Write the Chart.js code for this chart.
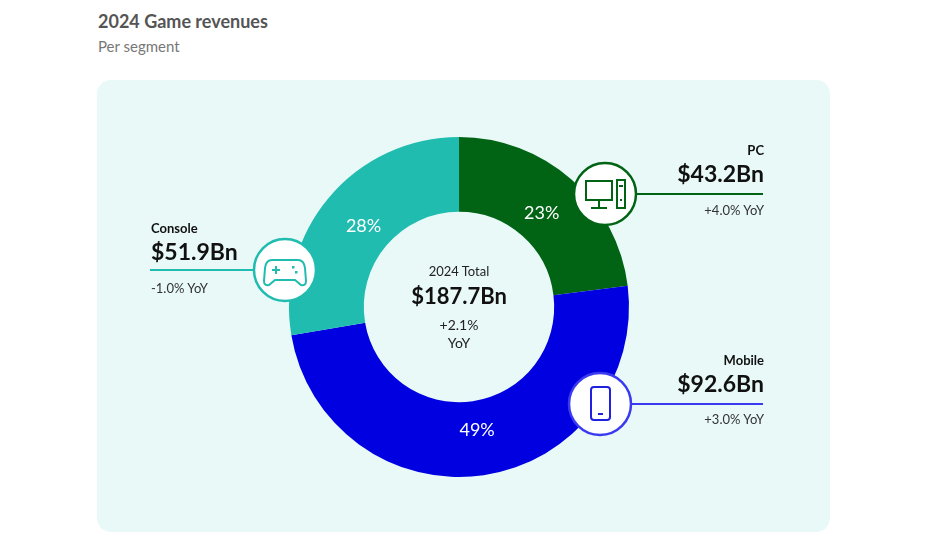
<!DOCTYPE html>
<html><head><meta charset="utf-8">
<script src="https://cdn.jsdelivr.net/npm/chart.js@4"></script>
<style>
body{margin:0;width:948px;height:557px;background:#fff;font-family:Lato,"Open Sans",sans-serif;position:relative;overflow:hidden}
#panel{position:absolute;left:97px;top:80px;width:733px;height:452px;background:#e8f9f8;border-radius:14px}
canvas{position:absolute;left:0;top:0}
.t{position:absolute;white-space:nowrap;color:#111;line-height:1}
.r{text-align:right;transform:translateX(-100%)}
.c{transform:translateX(-50%)}
</style></head><body>
<div class="t" style="left:98px;top:12px;font-size:18px;font-weight:bold;color:#555">2024 Game revenues</div>
<div class="t" style="left:98px;top:39px;font-size:15px;color:#777">Per segment</div>
<div id="panel"></div>
<canvas id="c" width="948" height="557"></canvas>
<div class="t r" style="left:764px;top:144px;font-size:13px;font-weight:bold">PC</div>
<div class="t r" style="left:764px;top:162px;font-size:23px;font-weight:bold">$43.2Bn</div>
<div class="t r" style="left:764px;top:204px;font-size:13px;color:#333">+4.0% YoY</div>
<div class="t r" style="left:764px;top:354px;font-size:13px;font-weight:bold">Mobile</div>
<div class="t r" style="left:764px;top:372px;font-size:23px;font-weight:bold">$92.6Bn</div>
<div class="t r" style="left:764px;top:413px;font-size:13px;color:#333">+3.0% YoY</div>
<div class="t" style="left:151px;top:222px;font-size:13px;font-weight:bold">Console</div>
<div class="t" style="left:151px;top:240px;font-size:23px;font-weight:bold">$51.9Bn</div>
<div class="t" style="left:151px;top:282px;font-size:13px;color:#333">-1.0% YoY</div>
<div class="t c" style="left:459px;top:265px;font-size:13px;color:#222">2024 Total</div>
<div class="t c" style="left:459px;top:285px;font-size:22px;font-weight:bold">$187.7Bn</div>
<div class="t c" style="left:459px;top:318px;font-size:14px;color:#222">+2.1%</div>
<div class="t c" style="left:459px;top:336px;font-size:14px;color:#222">YoY</div>
<script>
const segments=["PC","Mobile","Console"];
const revenues=[43.2,92.6,51.9];
const shares=["23%","49%","28%"];
const colors=["#006414","#0000e0","#20bcb0"];
const overlay={id:'overlay',afterDraw(ch){
  const ctx=ch.ctx,meta=ch.getDatasetMeta(0);
  ctx.save();
  ctx.fillStyle='#fff';ctx.font='18px Lato';ctx.textAlign='center';ctx.textBaseline='middle';
  meta.data.forEach((a,i)=>{const m=(a.startAngle+a.endAngle)/2;const r=125;
    ctx.fillText(shares[i],a.x+Math.cos(m)*r,a.y+Math.sin(m)*r);});
  const circ=(x,y,col,lx1,lx2)=>{ctx.strokeStyle=col;ctx.lineWidth=2;
    ctx.beginPath();ctx.moveTo(lx1,y);ctx.lineTo(lx2,y);ctx.stroke();
    ctx.fillStyle='#fff';ctx.lineWidth=2.5;ctx.beginPath();ctx.arc(x,y,31,0,Math.PI*2);ctx.fill();ctx.stroke();};
  // PC
  circ(605,194,'#006414',636,763);
  ctx.strokeStyle='#006414';ctx.lineWidth=2;
  ctx.strokeRect(586,181,26,19);ctx.beginPath();ctx.moveTo(599,200);ctx.lineTo(599,207);ctx.moveTo(591,208);ctx.lineTo(607,208);ctx.stroke();
  ctx.strokeRect(617,180,8,28);ctx.beginPath();ctx.moveTo(619,186);ctx.lineTo(623,186);ctx.stroke();ctx.fillStyle='#006414';ctx.fillRect(620,199,2,2);
  // Mobile
  circ(600,404,'#3a3af0',631,763);
  ctx.strokeStyle='#2020e0';ctx.lineWidth=2;
  ctx.beginPath();ctx.roundRect(591,387,19,33,3);ctx.stroke();
  ctx.beginPath();ctx.moveTo(598,414);ctx.lineTo(603,414);ctx.stroke();
  // Console
  circ(285,270,'#20bcb0',150,254);
  ctx.strokeStyle='#20bcb0';ctx.lineWidth=2;
  ctx.beginPath();ctx.moveTo(272,260);ctx.lineTo(298,260);ctx.quadraticCurveTo(304,260,305,268);ctx.lineTo(306,281);
  ctx.quadraticCurveTo(306,286,301,285);ctx.lineTo(295,280);ctx.lineTo(275,280);ctx.lineTo(269,285);ctx.quadraticCurveTo(264,286,264,281);
  ctx.lineTo(265,268);ctx.quadraticCurveTo(266,260,272,260);ctx.stroke();
  ctx.beginPath();ctx.moveTo(272,270);ctx.lineTo(280,270);ctx.moveTo(276,266);ctx.lineTo(276,274);ctx.stroke();
  ctx.fillStyle='#20bcb0';ctx.fillRect(292,266,2.5,2.5);ctx.fillRect(295,271,2.5,2.5);
  ctx.restore();
}};
new Chart(document.getElementById('c'),{type:'doughnut',
  data:{labels:segments,datasets:[{data:revenues,backgroundColor:colors,borderWidth:0}]},
  options:{responsive:false,animation:false,cutout:'56%',
    layout:{padding:{left:289,right:319,top:137,bottom:80}},
    plugins:{legend:{display:false},tooltip:{enabled:false}}},
  plugins:[overlay]});
</script></body></html>
